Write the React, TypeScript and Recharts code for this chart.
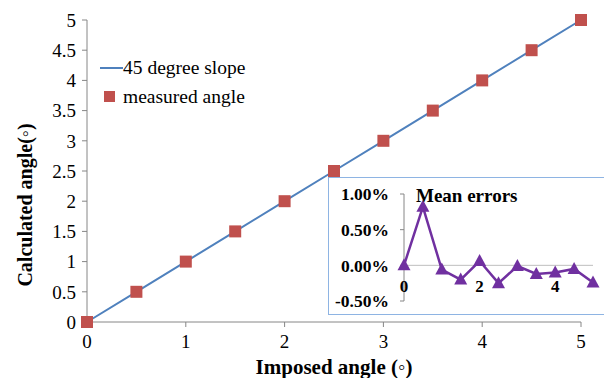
import React from 'react';
import {
  ComposedChart,
  LineChart,
  Line,
  XAxis,
  YAxis,
  ReferenceLine,
  ReferenceDot,
} from 'recharts';

// main chart
const imposed = [0, 0.5, 1, 1.5, 2, 2.5, 3, 3.5, 4, 4.5, 5];
const slope = [0, 0.5, 1, 1.5, 2, 2.5, 3, 3.5, 4, 4.5, 5];
const measured = [0, 0.5, 1, 1.5, 2, 2.5, 3, 3.5, 4, 4.5, 5];
const xTicks = [0, 1, 2, 3, 4, 5];
const yTicks = [0, 0.5, 1, 1.5, 2, 2.5, 3, 3.5, 4, 4.5, 5];

// inset: mean errors (%)
const meanErrors = [0, 0.82, -0.06, -0.2, 0.06, -0.25, -0.01, -0.12, -0.1, -0.05, -0.24];
const insetYTicks = [-0.5, 0, 0.5, 1];
const insetXTicks = [0, 2, 4];

const SERIF = '"Liberation Serif", "Times New Roman", Times, serif';
const AXIS = '#868686';
const BLUE = '#4F81BD';
const RED = '#C0504D';
const PURPLE = '#7030A0';

const mainData = imposed.map((x, i) => ({ x, slope: slope[i], measured: measured[i] }));
const insetData = imposed.map((x, i) => ({ x, err: meanErrors[i] }));

const Square = (props: any) => {
  const { cx, cy } = props;
  if (cx == null || cy == null) return null;
  return <rect x={cx - 6} y={cy - 6} width={12} height={12} fill={RED} />;
};

const Triangle = (props: any) => {
  const { cx, cy } = props;
  if (cx == null || cy == null) return null;
  return <path d={`M${cx},${cy - 7} L${cx + 6.5},${cy + 5} L${cx - 6.5},${cy + 5} Z`} fill={PURPLE} />;
};

function LegendBox() {
  return (
    <div
      style={{
        position: 'absolute',
        left: 100,
        top: 53,
        fontFamily: SERIF,
        fontSize: 19.5,
        color: '#000',
        lineHeight: '29px',
        background: '#fff',
        paddingRight: 8,
      }}
    >
      <div style={{ display: 'flex', alignItems: 'center' }}>
        <span style={{ width: 23, height: 2, background: BLUE, display: 'inline-block' }} />
        <span>45 degree slope</span>
      </div>
      <div style={{ display: 'flex', alignItems: 'center' }}>
        <span style={{ width: 11, height: 11, background: RED, display: 'inline-block', margin: '0 8px 0 4px' }} />
        <span>measured angle</span>
      </div>
    </div>
  );
}

export default function App() {
  return (
    <div style={{ position: 'fixed', left: 0, top: 0, width: 604, height: 378, overflow: 'hidden', background: '#fff' }}>
      <ComposedChart
        width={604}
        height={378}
        data={mainData}
        margin={{ top: 20, right: 23, left: 0, bottom: 0 }}
        style={{ fontFamily: SERIF }}
      >
        <XAxis
          dataKey="x"
          type="number"
          domain={[0, 5]}
          ticks={xTicks}
          height={56}
          stroke={AXIS}
          tickSize={5}
          tick={{ fill: '#000', fontFamily: SERIF, fontSize: 19, dy: 6 }}
        />
        <YAxis
          type="number"
          domain={[0, 5]}
          ticks={yTicks}
          width={87}
          stroke={AXIS}
          tickSize={5}
          tick={{ fill: '#000', fontFamily: SERIF, fontSize: 19, dx: -4 }}
        />
        <Line
          dataKey="slope"
          stroke={BLUE}
          strokeWidth={2}
          dot={false}
          isAnimationActive={false}
        />
        <Line
          dataKey="measured"
          stroke="none"
          dot={<Square />}
          activeDot={false}
          isAnimationActive={false}
        />
      </ComposedChart>

      <LegendBox />

      <div
        style={{
          position: 'absolute',
          left: 25,
          top: 205,
          transform: 'translate(-50%, -50%) rotate(-90deg)',
          fontFamily: SERIF,
          fontWeight: 'bold',
          fontSize: 20,
          whiteSpace: 'nowrap',
          color: '#000',
        }}
      >
        Calculated angle(◦)
      </div>
      <div
        style={{
          position: 'absolute',
          left: 334,
          top: 367,
          transform: 'translate(-50%, -50%)',
          fontFamily: SERIF,
          fontWeight: 'bold',
          fontSize: 21,
          whiteSpace: 'nowrap',
          color: '#000',
        }}
      >
        Imposed angle (◦)
      </div>

      <div
        style={{
          position: 'absolute',
          left: 328,
          top: 177,
          width: 290,
          height: 138,
          border: '1.5px solid #8EB4E3',
          background: '#fff',
          boxSizing: 'border-box',
        }}
      >
        <LineChart
          width={276}
          height={135}
          data={insetData}
          margin={{ top: 16, right: 12, left: 0, bottom: 12 }}
          style={{ fontFamily: SERIF }}
        >
          <XAxis dataKey="x" type="number" domain={[0, 5]} hide />
          <YAxis
            type="number"
            domain={[-0.5, 1]}
            ticks={insetYTicks}
            width={75}
            stroke={AXIS}
            tickSize={4}
            tickFormatter={(v: number) => `${v.toFixed(2)}%`}
            tick={{ fill: '#000', fontFamily: SERIF, fontSize: 17.5, fontWeight: 'bold', dx: -9 }}
          />
          <ReferenceLine y={0} stroke="#BFBFBF" />
          {insetXTicks.map((t) => (
            <ReferenceDot
              key={t}
              x={t}
              y={0}
              r={0}
              stroke="none"
              label={{
                value: String(t),
                position: 'bottom',
                offset: 15,
                fill: '#000',
                fontFamily: SERIF,
                fontSize: 17,
                fontWeight: 'bold',
              }}
            />
          ))}
          <Line
            dataKey="err"
            stroke={PURPLE}
            strokeWidth={2.5}
            dot={<Triangle />}
            activeDot={false}
            isAnimationActive={false}
          />
        </LineChart>
        <div
          style={{
            position: 'absolute',
            left: 87,
            top: 7,
            fontFamily: SERIF,
            fontWeight: 'bold',
            fontSize: 19,
            color: '#000',
          }}
        >
          Mean errors
        </div>
      </div>
    </div>
  );
}
